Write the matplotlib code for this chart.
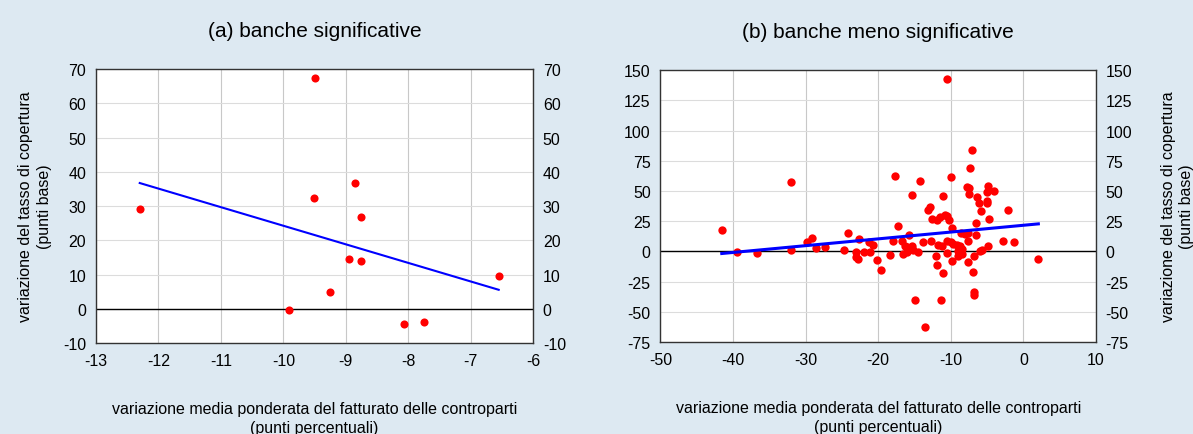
import numpy as np
import matplotlib
matplotlib.use("Agg")
import matplotlib.pyplot as plt

plt.rcParams['font.family'] = ['Liberation Sans', 'DejaVu Sans']
plt.rcParams['axes.unicode_minus'] = False

# Panel (a): banche significative
a_x = [-12.30, -9.50, -9.51, -9.91, -9.26, -8.94, -8.85, -8.75, -8.75, -8.06, -7.74, -6.55]
a_y = [29.0, 67.3, 32.4, -0.3, 4.9, 14.6, 36.7, 26.7, 13.9, -4.3, -3.8, 9.6]

# Panel (b): banche meno significative
b_x = [-41.55, -39.45, -36.67, -32.05, -32.05, -29.77, -29.13, -28.58, -27.35, -24.70,
       -24.16, -23.11, -23.11, -22.74, -22.60, -21.92, -21.28, -21.19, -20.73, -20.18,
       -19.59, -18.36, -17.90, -17.67, -17.21,
       -16.69, -16.37, -16.09, -15.63, -15.40, -15.17, -16.55, -16.09, -14.48, -15.72,
       -15.40, -14.21, -13.79, -13.52, -14.90, -13.15, -12.87, -12.74, -12.64, -12.05,
       -11.95, -11.86, -11.72, -11.49, -11.36, -11.26, -11.13, -11.03, -10.80, -10.48,
       -10.57, -10.57, -10.57, -10.25, -10.02, -9.89, -9.79, -10.02, -9.66, -9.20,
       -8.74, -8.51, -8.97, -8.51, -8.97, -8.64, -8.05, -7.59, -7.68, -7.59,
       -7.72, -7.45, -7.45, -7.36, -7.13, -6.99, -6.80, -6.76, -6.76, -6.53,
       -6.34, -6.07, -5.89, -5.98, -5.75, -5.06, -5.06, -4.97, -4.83, -4.83,
       -4.69, -4.05, -2.76, -2.07, -1.24, 2.07, -6.53]
b_y = [17.4, -0.3, -1.1, 57.1, 0.8, 7.4, 10.8, 3.0, 3.3, 1.1,
       15.4, -0.3, -5.0, -6.3, 10.5, -0.8, 7.7, -0.6, 5.5, -7.4,
       -15.2, -3.3, 8.5, 62.3, 20.7,
       8.3, 4.7, 3.3, 1.9, 4.7, 1.4, -2.2, -0.8, -0.3, 13.5,
       46.3, 58.2, 8.0, -62.3, -40.2, 34.2, 36.9, 8.3, 26.7, -3.6,
       25.9, -11.3, 5.5, 28.7, -40.3, 4.1, 46.0, -18.2, 30.3, 28.9,
       8.8, -1.7, 142.5, 25.9, 61.8, -7.7, 19.3, 8.0, 6.1, 5.2,
       4.1, 1.9, 0.6, -2.2, -4.1, 14.9, 14.3, 15.2, 8.8, -8.5,
       53.5, 52.4, 47.4, 68.7, 84.1, -16.8, -33.4, -36.1, -3.6, 23.4,
       45.2, 40.0, 33.1, 0.6, 1.4, 48.8, 41.4, 39.7, 54.3, 4.1,
       26.7, 49.6, 8.3, 34.5, 7.4, -6.3, 13.8]

a_xticks = list(range(-13, -5))
a_yticks = list(range(-10, 71, 10))
b_xticks = list(range(-50, 11, 10))
b_yticks = list(range(-75, 151, 25))

title_a = "(a) banche significative"
title_b = "(b) banche meno significative"
ylab = "variazione del tasso di copertura\n(punti base)"
xlab = "variazione media ponderata del fatturato delle controparti\n(punti percentuali)"

BG = '#dde9f2'
fig = plt.figure(figsize=(11.93, 4.35), dpi=100, facecolor=BG)

def panel(rect, xs, ys, xticks, yticks, title, ms, lw, ylabel_side):
    ax = fig.add_axes(rect)
    ax.set_facecolor('white')
    ax.set_xlim(xticks[0], xticks[-1])
    ax.set_ylim(yticks[0], yticks[-1])
    ax.set_xticks(xticks)
    ax.set_yticks(yticks)
    ax.grid(True, axis='x', color='#c8c8c8', lw=0.8)
    ax.grid(True, axis='y', color='#dcdcdc', lw=0.8)
    ax.set_axisbelow(True)
    ax.axhline(0, color='black', lw=1.0, zorder=2)
    ax.scatter(xs, ys, s=ms, color='#ff0000', zorder=3, linewidths=0)
    xa = np.array(xs); ya = np.array(ys)
    m, q = np.polyfit(xa, ya, 1)
    xl = np.array([xa.min(), xa.max()])
    ax.plot(xl, m * xl + q, color='#0000ff', lw=lw, zorder=4)
    for s in ax.spines.values():
        s.set_color('#333333'); s.set_linewidth(1.0)
    ax.tick_params(length=0, labelsize=11.5, pad=7)
    ax2 = ax.twinx()
    ax2.set_ylim(ax.get_ylim())
    ax2.set_yticks(yticks)
    ax2.tick_params(length=0, labelsize=11.5, pad=7)
    for s in ax2.spines.values():
        s.set_visible(False)
    ax.set_title(title, fontsize=15, pad=24)
    ax.set_xlabel(xlab, fontsize=11.5, labelpad=24, linespacing=1.3)
    if ylabel_side == 'left':
        ax.set_ylabel(ylab, fontsize=11.5, labelpad=8, linespacing=1.35)
    else:
        ax2.set_ylabel(ylab, fontsize=11.5, labelpad=21, linespacing=1.2)
    return ax

panel([0.0805, 0.209, 0.3663, 0.630], a_x, a_y, a_xticks, a_yticks, title_a, 34, 1.5, 'left')
panel([0.5536, 0.2115, 0.365, 0.625], b_x, b_y, b_xticks, b_yticks, title_b, 36, 2.2, 'right')

fig.savefig('out.png', dpi=100, facecolor=BG)
